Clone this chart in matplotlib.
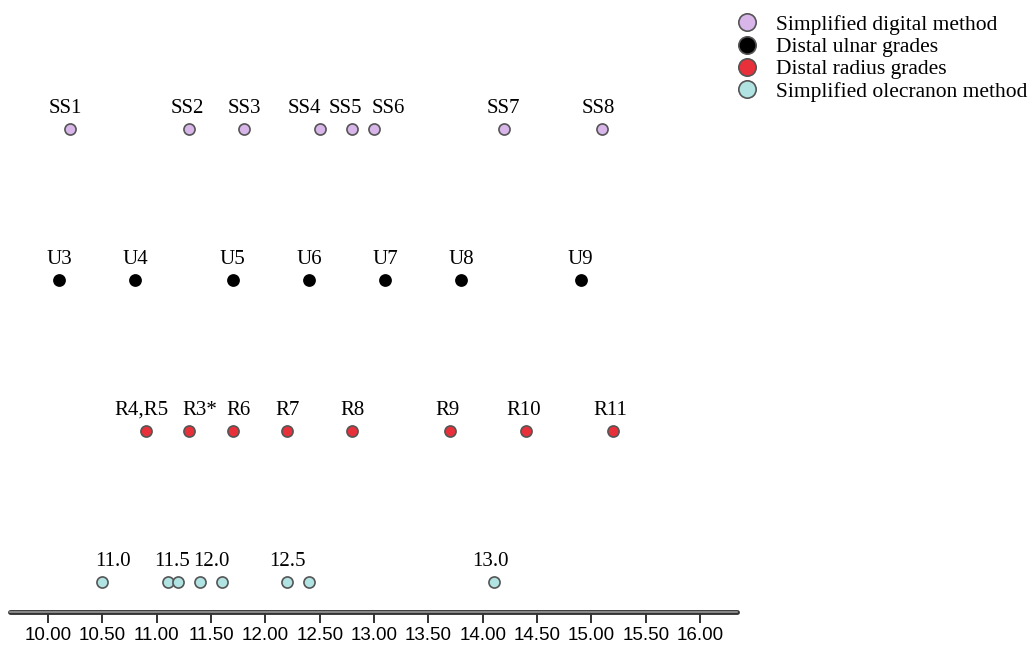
import matplotlib

matplotlib.use("Agg")

import matplotlib.pyplot as plt
from matplotlib.lines import Line2D

SERIES_NAMES = [
    "Simplified digital method",
    "Distal ulnar grades",
    "Distal radius grades",
    "Simplified olecranon method",
]
SERIES_COLOURS = ["#d9b6ea", "#000000", "#e8303a", "#b1e3e3"]

digital_x = [10.2, 11.3, 11.8, 12.5, 12.8, 13.0, 14.2, 15.1]
digital_labels = ["SS1", "SS2", "SS3", "SS4", "SS5", "SS6", "SS7", "SS8"]
digital_label_x = [10.16, 11.28, 11.81, 12.36, 12.74, 13.13, 14.19, 15.06]

ulnar_x = [10.1, 10.8, 11.7, 12.4, 13.1, 13.8, 14.9]
ulnar_labels = ["U3", "U4", "U5", "U6", "U7", "U8", "U9"]
ulnar_label_x = ulnar_x

radius_x = [10.9, 11.3, 11.7, 12.2, 12.8, 13.7, 14.4, 15.2]
radius_labels = ["R4,R5", "R3*", "R6", "R7", "R8", "R9", "R10", "R11"]
radius_label_x = [10.86, 11.40, 11.75, 12.2, 12.8, 13.68, 14.38, 15.17]

olecranon_x = [10.5, 11.1, 11.2, 11.4, 11.6, 12.2, 12.4, 14.1]
olecranon_labels = ["11.0", "11.5", "12.0", "12.5", "13.0"]
olecranon_label_x = [10.6, 11.14, 11.5, 12.2, 14.07]

tick_values = [10.0 + 0.5 * i for i in range(13)]

SERIF = ["Liberation Serif", "DejaVu Serif"]
NARROW = ["Liberation Sans Narrow", "Liberation Sans", "DejaVu Sans"]

fig = plt.figure(figsize=(10.33, 6.48), dpi=100)
ax = fig.add_axes([10 / 1033, 36 / 648, 727 / 1033, 612 / 648])

rows = [
    (4, digital_x, digital_labels, digital_label_x, SERIES_COLOURS[0]),
    (3, ulnar_x, ulnar_labels, ulnar_label_x, SERIES_COLOURS[1]),
    (2, radius_x, radius_labels, radius_label_x, SERIES_COLOURS[2]),
    (1, olecranon_x, olecranon_labels, olecranon_label_x, SERIES_COLOURS[3]),
]

for y, xs, labels, label_xs, colour in rows:
    edge = "#000000" if colour == "#000000" else "#555555"
    ax.plot(xs, [y] * len(xs), linestyle="none", marker="o", markersize=8,
            markerfacecolor=colour, markeredgecolor=edge, markeredgewidth=1.2, clip_on=False)
    for lx, text in zip(label_xs, labels):
        ax.annotate(text, (lx, y), xytext=(0, 8), textcoords="offset points",
                    ha="center", va="bottom", fontsize=15, family=SERIF)

ax.set_xlim(9.65, 16.34)
ax.set_ylim(0.8, 4.855)

for side in ("left", "right", "top"):
    ax.spines[side].set_visible(False)
ax.spines["bottom"].set_linewidth(3.5)
ax.spines["bottom"].set_color("#333333")
ax.spines["bottom"].set_capstyle("round")
ax.axhline(0.8, color="#999999", linewidth=1.2, zorder=5, clip_on=False)
ax.set_yticks([])
ax.set_xticks(tick_values)
ax.set_xticklabels([f"{v:.2f}" for v in tick_values], family=NARROW, fontsize=13.5)
ax.tick_params(axis="x", direction="out", length=8, width=1.3, color="#222222", pad=3)

handles = [
    Line2D([], [], linestyle="none", marker="o", markersize=12.5,
           markerfacecolor=c, markeredgecolor="#555555", markeredgewidth=1.2)
    for c in SERIES_COLOURS
]
fig.legend(handles, SERIES_NAMES, loc="upper left", bbox_to_anchor=(719 / 1033, 0.997),
           frameon=False, prop={"family": SERIF, "size": 15.5}, handletextpad=0.67,
           labelspacing=0.1, borderaxespad=0.2, handlelength=1.4)

fig.savefig("out.png", facecolor="white")
